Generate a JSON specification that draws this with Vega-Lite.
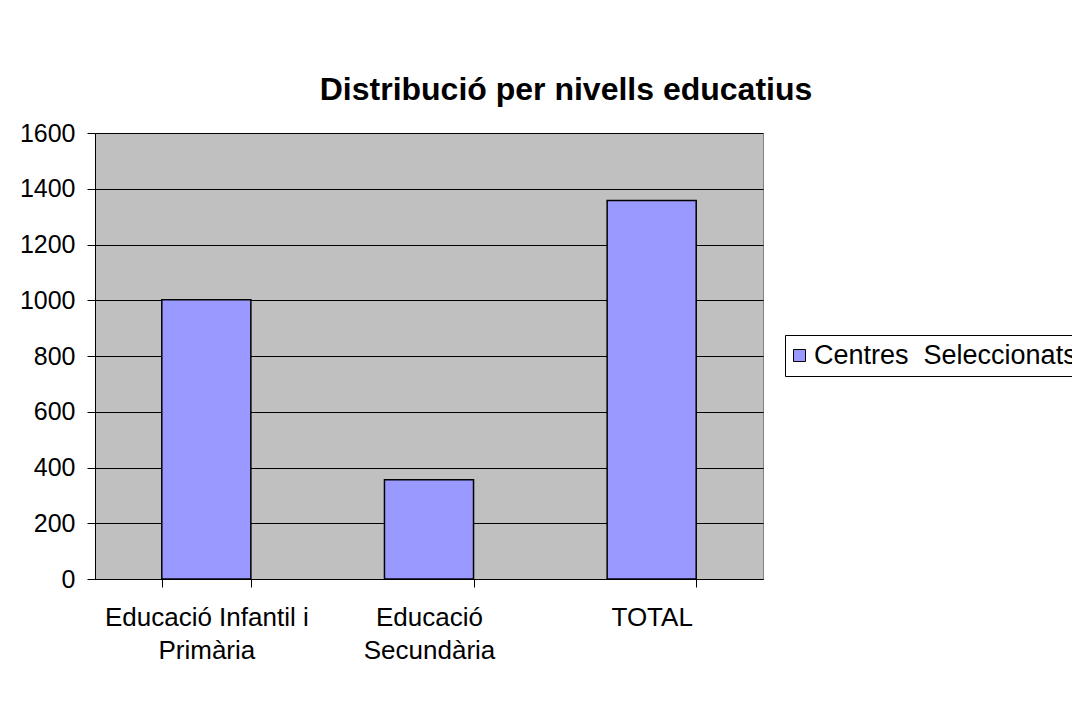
{
  "$schema": "https://vega.github.io/schema/vega-lite/v6.json",
  "autosize": {"type": "none"},
  "padding": {"left": 95, "top": 133, "right": 309, "bottom": 125},
  "width": 668,
  "height": 446,
  "background": "white",
  "title": {
    "text": "Distribució per nivells educatius",
    "font": "Liberation Sans",
    "fontSize": 32,
    "fontWeight": "bold",
    "color": "black",
    "anchor": "middle",
    "frame": "group",
    "dx": 137,
    "offset": 14
  },
  "data": {
    "values": [
      {"nivell": "Educació Infantil i Primària", "serie": "Centres\u00a0 Seleccionats", "centres": 1002},
      {"nivell": "Educació Secundària", "serie": "Centres\u00a0 Seleccionats", "centres": 356},
      {"nivell": "TOTAL", "serie": "Centres\u00a0 Seleccionats", "centres": 1358}
    ]
  },
  "mark": {"type": "bar", "stroke": "black", "strokeWidth": 1.5},
  "encoding": {
    "x": {
      "field": "nivell",
      "type": "nominal",
      "sort": null,
      "scale": {"paddingInner": 0.6, "paddingOuter": 0.3},
      "axis": {
        "title": null,
        "labelAngle": 0,
        "labelFont": "Liberation Sans",
        "labelFontSize": 26,
        "labelColor": "black",
        "labelPadding": 17,
        "labelLineHeight": 33,
        "labelLimit": 0,
        "labelExpr": "datum.value == 'Educació Infantil i Primària' ? ['Educació Infantil i', 'Primària'] : datum.value == 'Educació Secundària' ? ['Educació', 'Secundària'] : datum.value",
        "tickBand": "extent",
        "tickSize": 8,
        "tickColor": "black",
        "domainColor": "black",
        "grid": false
      }
    },
    "y": {
      "field": "centres",
      "type": "quantitative",
      "scale": {"domain": [0, 1600]},
      "axis": {
        "title": null,
        "values": [0, 200, 400, 600, 800, 1000, 1200, 1400, 1600],
        "format": "d",
        "labelFont": "Liberation Sans",
        "labelFontSize": 25,
        "labelColor": "black",
        "labelPadding": 12,
        "tickSize": 8,
        "tickColor": "black",
        "domainColor": "black",
        "gridColor": "black",
        "gridOpacity": 1
      }
    },
    "color": {
      "field": "serie",
      "type": "nominal",
      "scale": {"range": ["#9999FF"]},
      "legend": {
        "title": null,
        "orient": "none",
        "legendX": 690,
        "legendY": 202,
        "strokeColor": "black",
        "fillColor": "white",
        "padding": 7,
        "symbolType": "square",
        "symbolSize": 144,
        "symbolOffset": -6,
        "symbolStrokeColor": "black",
        "symbolStrokeWidth": 1,
        "symbolOpacity": 1,
        "labelFont": "Liberation Sans",
        "labelFontSize": 27,
        "labelColor": "black",
        "labelOffset": 1,
        "labelLimit": 0
      }
    }
  },
  "config": {
    "view": {"fill": "#C0C0C0", "stroke": "#808080", "strokeWidth": 1},
    "bar": {"fillOpacity": 1}
  }
}
